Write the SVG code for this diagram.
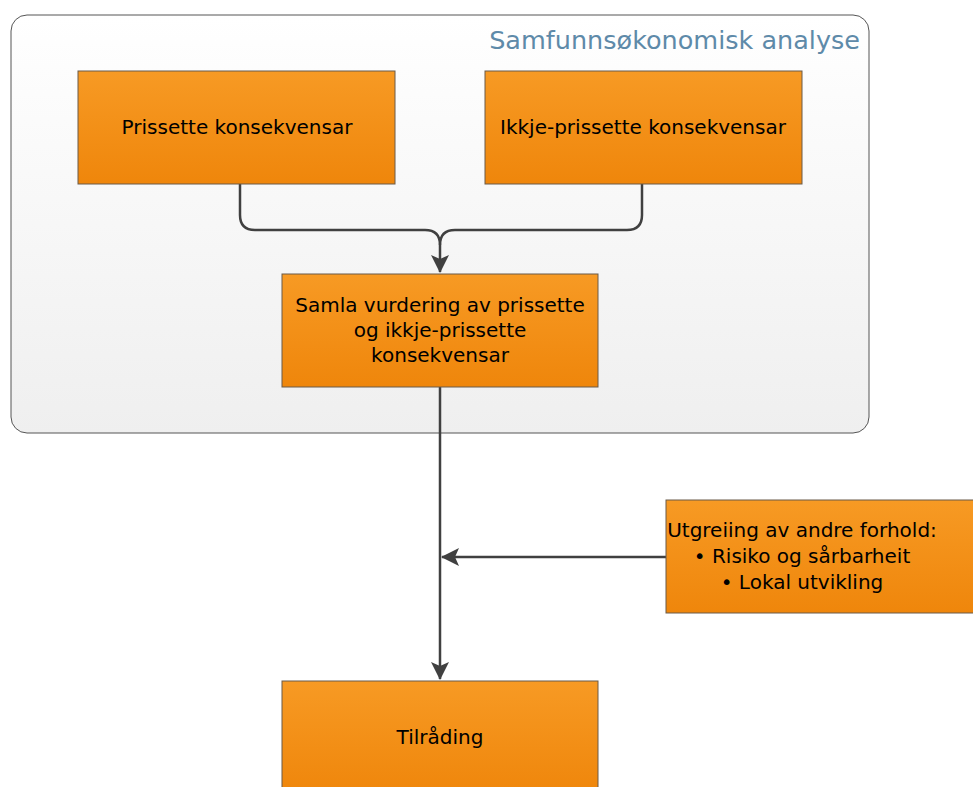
<svg xmlns="http://www.w3.org/2000/svg" width="973" height="787" viewBox="0 0 973 787">
<defs>
<linearGradient id="og" x1="0" y1="0" x2="0" y2="1">
<stop offset="0" stop-color="#f79a24"/>
<stop offset="1" stop-color="#ef860b"/>
</linearGradient>
<linearGradient id="cg" x1="0" y1="0" x2="0" y2="1">
<stop offset="0" stop-color="#ffffff"/>
<stop offset="1" stop-color="#efefef"/>
</linearGradient>
<marker id="ah" markerWidth="18" markerHeight="18" viewBox="0 0 18 18" refX="17" refY="9" orient="auto" markerUnits="userSpaceOnUse">
<path d="M0,0 L18,9 L0,18 L4,9 z" fill="#404040"/>
</marker>
<style>
.box{fill:url(#og);stroke:#6a5a48;stroke-width:1}
.t{font-family:"DejaVu Sans",sans-serif;font-size:20px;fill:#000;text-anchor:middle}
.c{fill:none;stroke:#404040;stroke-width:2.5}
</style>
</defs>
<g id="container">
<rect x="11" y="15" width="858" height="418" rx="16" ry="16" fill="url(#cg)" stroke="#555" stroke-width="1"/>
<text x="860" y="49" style="font-family:'DejaVu Sans',sans-serif;font-size:25.5px;fill:#5e8aa9;text-anchor:end">Samfunnsøkonomisk analyse</text>
</g>
<g id="connectors">
<path class="c" d="M240,184 V215 Q240,230 255,230 H425 Q440,230 440,245 V272" marker-end="url(#ah)"/>
<path class="c" d="M642,184 V215 Q642,230 627,230 H455 Q440,230 440,245"/>
<path class="c" d="M440,387 V679" marker-end="url(#ah)"/>
<path class="c" d="M666,557 H442" marker-end="url(#ah)"/>
</g>
<g id="n1">
<rect class="box" x="78" y="71" width="317" height="113"/>
<text class="t" x="237" y="134">Prissette konsekvensar</text>
</g>
<g id="n2">
<rect class="box" x="485" y="71" width="317" height="113"/>
<text class="t" x="643" y="134">Ikkje-prissette konsekvensar</text>
</g>
<g id="n3">
<rect class="box" x="282" y="274" width="316" height="113"/>
<text class="t" x="440" y="312">Samla vurdering av prissette</text>
<text class="t" x="440" y="337">og ikkje-prissette</text>
<text class="t" x="440" y="362">konsekvensar</text>
</g>
<g id="n4">
<rect class="box" x="666" y="500" width="317" height="113"/>
<text class="t" x="802" y="537">Utgreiing av andre forhold:</text>
<text class="t" x="802" y="563">• Risiko og sårbarheit</text>
<text class="t" x="802" y="589">• Lokal utvikling</text>
</g>
<g id="n5">
<rect class="box" x="282" y="681" width="316" height="113"/>
<text class="t" x="440" y="744">Tilråding</text>
</g>
</svg>
